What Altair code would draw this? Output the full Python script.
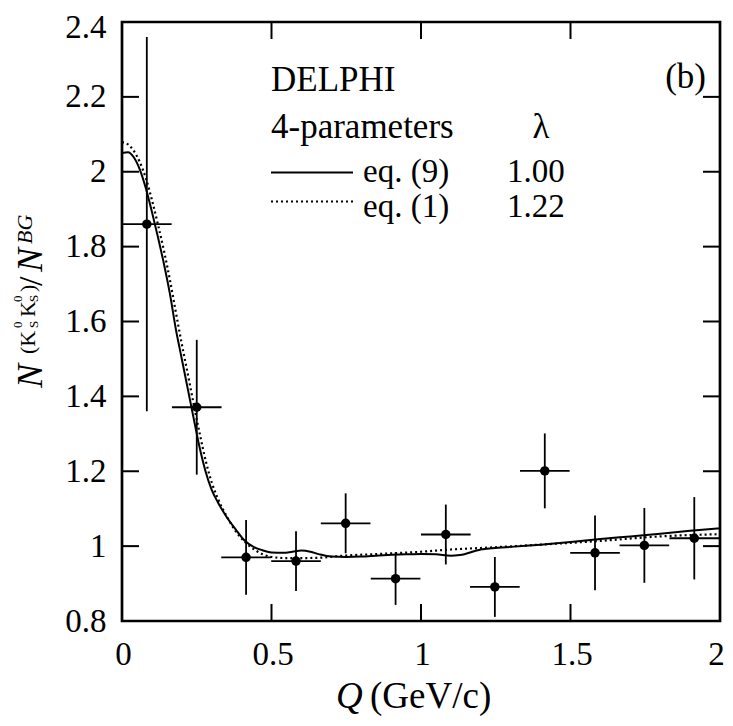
import altair as alt
import pandas as pd

# ---- data ----
Q = [0.083, 0.250, 0.415, 0.582, 0.748, 0.915, 1.083, 1.247, 1.414, 1.582, 1.747, 1.914]
R = [1.860, 1.371, 0.970, 0.960, 1.061, 0.913, 1.031, 0.891, 1.201, 0.982, 1.002, 1.021]
R_ERR = [0.50, 0.18, 0.10, 0.08, 0.08, 0.07, 0.08, 0.08, 0.10, 0.10, 0.10, 0.11]
Q_ERR = [0.083, 0.083, 0.083, 0.083, 0.083, 0.083, 0.083, 0.083, 0.083, 0.083, 0.083, 0.083]

# eq. (9) fit (solid)
FIT9_Q = [0.00, 0.02, 0.04, 0.06, 0.08, 0.10, 0.12, 0.14, 0.16, 0.18, 0.20, 0.22, 0.24,
          0.26, 0.28, 0.30, 0.32, 0.35, 0.38, 0.41, 0.44, 0.47, 0.50, 0.54, 0.57, 0.60,
          0.63, 0.66, 0.70, 0.75, 0.80, 0.86, 0.95, 1.00, 1.05, 1.10, 1.13, 1.20, 1.30,
          1.40, 1.50, 1.60, 1.70, 1.80, 1.90, 2.00]
FIT9_R = [2.050, 2.052, 2.038, 2.005, 1.955, 1.893, 1.826, 1.755, 1.675, 1.580, 1.500,
          1.420, 1.340, 1.262, 1.198, 1.150, 1.118, 1.078, 1.045, 1.015, 0.998, 0.989,
          0.983, 0.982, 0.985, 0.988, 0.985, 0.978, 0.972, 0.971, 0.972, 0.975, 0.978,
          0.979, 0.978, 0.974, 0.976, 0.991, 0.998, 1.004, 1.011, 1.019, 1.026, 1.033,
          1.041, 1.048]

# eq. (1) fit (dotted)
FIT1_Q = [0.00, 0.02, 0.04, 0.06, 0.08, 0.10, 0.12, 0.14, 0.16, 0.18, 0.20, 0.22, 0.24,
          0.26, 0.28, 0.30, 0.32, 0.35, 0.38, 0.41, 0.45, 0.50, 0.55, 0.60, 0.66, 0.75,
          0.86, 1.00, 1.10, 1.20, 1.40, 1.60, 1.80, 2.00]
FIT1_R = [2.079, 2.073, 2.055, 2.025, 1.982, 1.925, 1.860, 1.790, 1.712, 1.625, 1.540,
          1.460, 1.378, 1.300, 1.228, 1.170, 1.128, 1.080, 1.040, 1.012, 0.987, 0.971,
          0.968, 0.968, 0.969, 0.975, 0.979, 0.985, 0.991, 0.995, 1.004, 1.014, 1.026,
          1.032]

X_LABELS = [0, 0.5, 1, 1.5, 2]
Y_LABELS = [0.8, 1.0, 1.2, 1.4, 1.6, 1.8, 2.0, 2.2, 2.4]
X_TICKS = [0.5, 1.0, 1.5]
Y_TICKS = [1.0, 1.2, 1.4, 1.6, 1.8, 2.0, 2.2]

# ---- layout ----
W, H = 598, 599
FONT = "Liberation Serif, DejaVu Serif, serif"
TICK = 17

xs = alt.Scale(domain=[0, 2], nice=False, zero=False)
ys = alt.Scale(domain=[0.8, 2.4], nice=False, zero=False)

xaxis = alt.Axis(values=X_LABELS, format="~g", ticks=False, tickSize=0, domain=False,
                 grid=False, labelFont=FONT, labelFontSize=33, labelPadding=17,
                 labelColor="black", labelFlush=False, labelOverlap=False, title=None,
                 labelOffset={"condition": {"test": "datum.value > 1.9", "value": -4},
                              "value": 1})
yaxis = alt.Axis(values=Y_LABELS, format="~g", ticks=False, tickSize=0, domain=False,
                 grid=False, labelFont=FONT, labelFontSize=33, labelPadding=16,
                 labelColor="black", labelOverlap=False, title=None,
                 labelOffset={"condition": {"test": "datum.value > 2.3", "value": 5},
                              "value": 0})


def X(field):
    return alt.X(field, scale=xs, axis=xaxis)


def Y(field):
    return alt.Y(field, scale=ys, axis=yaxis)


pts = pd.DataFrame({"Q": Q, "R": R, "dR": R_ERR, "dQ": Q_ERR})
base = alt.Chart(pts).transform_calculate(
    lo="datum.R - datum.dR", hi="datum.R + datum.dR",
    qlo="datum.Q - datum.dQ", qhi="datum.Q + datum.dQ")

vbars = base.mark_rule(color="black", strokeWidth=1.8).encode(
    x=X("Q:Q"), y=Y("lo:Q"), y2="hi:Q")
hbars = base.mark_rule(color="black", strokeWidth=1.8).encode(
    x=X("qlo:Q"), x2="qhi:Q", y=Y("R:Q"))
dots = base.mark_circle(color="black", opacity=1, size=90).encode(
    x=X("Q:Q"), y=Y("R:Q"))

fit9 = alt.Chart(pd.DataFrame({"Q": FIT9_Q, "R": FIT9_R})).mark_line(
    color="black", strokeWidth=2, interpolate="monotone").encode(
    x=X("Q:Q"), y=Y("R:Q"))
fit1 = alt.Chart(pd.DataFrame({"Q": FIT1_Q, "R": FIT1_R})).mark_line(
    color="black", strokeWidth=2.2, strokeDash=[2, 3], interpolate="monotone").encode(
    x=X("Q:Q"), y=Y("R:Q"))

# inward ticks on all four sides
yt = alt.Chart(pd.DataFrame({"v": Y_TICKS}))
xt = alt.Chart(pd.DataFrame({"v": X_TICKS}))
tick_l = yt.mark_rule(color="black", strokeWidth=2).encode(
    y=Y("v:Q"), x=alt.value(0), x2=alt.value(TICK))
tick_r = yt.mark_rule(color="black", strokeWidth=2).encode(
    y=Y("v:Q"), x=alt.value(W), x2=alt.value(W - TICK))
tick_b = xt.mark_rule(color="black", strokeWidth=2).encode(
    x=X("v:Q"), y=alt.value(H), y2=alt.value(H - TICK))
tick_t = xt.mark_rule(color="black", strokeWidth=2).encode(
    x=X("v:Q"), y=alt.value(0), y2=alt.value(TICK))

one = pd.DataFrame({"a": [0]})


def label(text, x, y, size=32, style="normal", align="left", angle=0):
    return alt.Chart(one).mark_text(
        text=text, font=FONT, fontSize=size, fontStyle=style, align=align,
        baseline="alphabetic", angle=angle, color="black").encode(
        x=alt.value(x), y=alt.value(y))


texts = [
    label("DELPHI", 149, 69, 35),
    label("4-parameters", 149, 116, 35),
    label("λ", 419, 116, 35, align="center"),
    label("eq. (9)", 241, 160, 33),
    label("1.00", 385, 160, 33),
    label("eq. (1)", 241, 195, 33),
    label("1.22", 385, 195, 33),
    label("(b)", 584, 66, 35, align="right"),
    # x title
    label("Q", 214, 686, 37, style="italic"),
    label("(GeV/c)", 248, 686, 37),
    # y title (rotated, reads bottom to top)
    label("N", -80, 366, 36, style="italic", angle=270),
    label("(K", -87, 332, 22, angle=270),
    label("0", -100, 306, 13, angle=270),
    label("S", -84, 306, 13, angle=270),
    label("K", -87, 295, 22, angle=270),
    label("0", -100, 280, 13, angle=270),
    label("S", -84, 280, 13, angle=270),
    label(")", -87, 270, 22, angle=270),
    label("/", -80, 264, 34, angle=270),
    label("N", -80, 250, 36, style="italic", angle=270),
    label("BG", -90, 222, 22, style="italic", angle=270),
]

key9 = alt.Chart(one).mark_rule(color="black", strokeWidth=2).encode(
    x=alt.value(149), x2=alt.value(231), y=alt.value(150.5))
key1 = alt.Chart(one).mark_rule(color="black", strokeWidth=2.2, strokeDash=[2, 3]).encode(
    x=alt.value(149), x2=alt.value(231), y=alt.value(179.5))

chart = alt.layer(
    vbars, hbars, fit9, fit1, dots, tick_l, tick_r, tick_b, tick_t, key9, key1, *texts
).properties(
    width=W, height=H,
    autosize=alt.AutoSizeParams(type="none"),
    padding={"left": 114, "top": 14, "right": 5, "bottom": 97},
).configure_view(stroke="black", strokeWidth=2.7)

chart.save("out.html", embed_options={"renderer": "svg", "actions": False})
